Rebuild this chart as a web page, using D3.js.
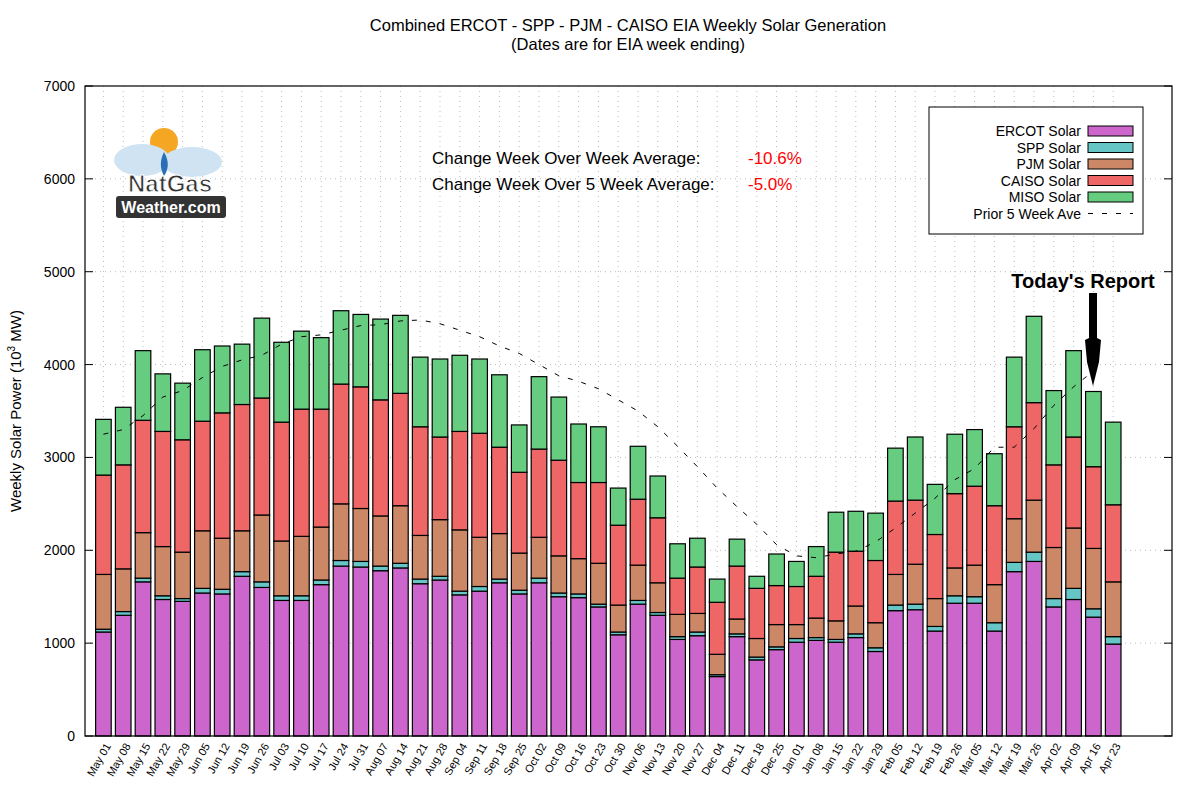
<!DOCTYPE html>
<html>
<head>
<meta charset="utf-8">
<script src="https://cdn.jsdelivr.net/npm/d3@7"></script>
<style>
  body { margin: 0; background: #fff; }
  text { font-family: "Liberation Sans", Arial, sans-serif; }
</style>
</head>
<body>
<svg id="chart" width="1200" height="800"></svg>
<script>
const weeks = ["May 01","May 08","May 15","May 22","May 29","Jun 05","Jun 12","Jun 19","Jun 26","Jul 03","Jul 10","Jul 17","Jul 24","Jul 31","Aug 07","Aug 14","Aug 21","Aug 28","Sep 04","Sep 11","Sep 18","Sep 25","Oct 02","Oct 09","Oct 16","Oct 23","Oct 30","Nov 06","Nov 13","Nov 20","Nov 27","Dec 04","Dec 11","Dec 18","Dec 25","Jan 01","Jan 08","Jan 15","Jan 22","Jan 29","Feb 05","Feb 12","Feb 19","Feb 26","Mar 05","Mar 12","Mar 19","Mar 26","Apr 02","Apr 09","Apr 16","Apr 23"]

// values in 10^3 MW, per region (not cumulative)
const ercot = [1120,1300,1660,1470,1450,1540,1530,1720,1600,1460,1460,1630,1830,1820,1780,1810,1640,1680,1520,1560,1650,1530,1650,1500,1490,1390,1090,1420,1300,1040,1080,640,1070,820,930,1010,1030,1010,1060,910,1350,1360,1130,1430,1430,1130,1770,1880,1390,1470,1280,990]
const spp = [30,40,40,40,30,50,50,50,60,50,50,50,60,60,50,50,50,40,40,50,40,40,50,40,40,30,30,40,30,30,40,20,30,30,30,40,30,30,40,40,60,60,50,80,70,90,100,100,90,120,90,80]
const pjm = [590,460,490,530,500,620,550,440,720,590,640,570,610,570,540,620,470,610,660,530,490,400,440,400,380,440,290,380,320,240,200,220,160,200,240,150,210,200,300,270,330,430,300,300,340,410,470,560,550,650,650,590]
const caiso = [1070,1120,1210,1240,1210,1180,1350,1360,1260,1280,1370,1270,1290,1310,1250,1210,1170,890,1060,1120,930,870,950,1030,820,870,860,710,700,390,500,560,570,540,420,410,450,740,590,670,790,690,690,800,850,850,990,1050,890,980,880,830]
const miso = [600,620,750,620,610,770,720,650,860,860,840,770,790,780,870,840,750,840,820,800,780,510,780,680,630,600,400,570,450,370,310,250,290,130,340,270,320,430,430,510,570,680,540,640,610,560,750,930,800,930,810,890]
const prior5 = [3250,3300,3450,3650,3720,3860,3980,4050,4100,4220,4300,4320,4370,4420,4430,4470,4480,4440,4370,4300,4200,4120,4000,3880,3820,3740,3620,3500,3330,3120,2900,2670,2470,2280,2060,1940,1920,1960,1990,2090,2240,2400,2560,2760,2880,3110,3110,3310,3560,3760,3930]
const seriesNames = ["ERCOT Solar","SPP Solar","PJM Solar","CAISO Solar","MISO Solar"]
const seriesColors = ["#cc66cc","#66c6c6","#cc8866","#ef6666","#66cc80"]
const yTicks = [0,1000,2000,3000,4000,5000,6000,7000]

const svg = d3.select("#chart")
const pLeft = 85, pRight = 1172, pTop = 86, pBottom = 736

const x = d3.scaleLinear().domain([-0.93, 53.97]).range([pLeft, pRight])
const y = d3.scaleLinear().domain([0, 7000]).range([pBottom, pTop])
const bw = 15.6

// grid
svg.append("g").selectAll("line").data(yTicks.slice(1, -1)).enter().append("line")
  .attr("x1", pLeft).attr("x2", pRight).attr("y1", d => y(d)).attr("y2", d => y(d))
  .attr("stroke", "#bbb").attr("stroke-dasharray", "1,4")
svg.append("g").selectAll("line").data(weeks).enter().append("line")
  .attr("x1", (d, i) => x(i)).attr("x2", (d, i) => x(i)).attr("y1", pTop).attr("y2", pBottom)
  .attr("stroke", "#bbb").attr("stroke-dasharray", "1,4")

// stack
const rows = weeks.map((w, i) => ({ i: i, v: [ercot[i], spp[i], pjm[i], caiso[i], miso[i]] }))
const stack = d3.stack().keys([0,1,2,3,4]).value((d, k) => d.v[k])(rows)
stack.forEach((layer, k) => {
  svg.append("g").selectAll("rect").data(layer).enter().append("rect")
    .attr("x", d => x(d.data.i) - bw / 2)
    .attr("width", bw)
    .attr("y", d => y(d[1]))
    .attr("height", d => y(d[0]) - y(d[1]))
    .attr("fill", seriesColors[k])
    .attr("stroke", "#000").attr("stroke-width", 1.2)
})

// prior 5 week average
svg.append("path").datum(prior5)
  .attr("d", d3.line().x((d, i) => x(i)).y(d => y(d)))
  .attr("fill", "none").attr("stroke", "#000").attr("stroke-width", 1)
  .attr("stroke-dasharray", "5,9")

// frame & axes
svg.append("rect").attr("x", pLeft).attr("y", pTop).attr("width", pRight - pLeft).attr("height", pBottom - pTop)
  .attr("fill", "none").attr("stroke", "#000").attr("stroke-width", 1.2)

const yAxis = svg.append("g").attr("transform", `translate(${pLeft},0)`)
  .call(d3.axisLeft(y).tickValues(yTicks).tickSize(0).tickPadding(10).tickFormat(d3.format("d")))
yAxis.select(".domain").remove()
yAxis.selectAll("text").attr("font-size", 14).attr("fill", "#000")
svg.append("g").selectAll("line").data(yTicks).enter().append("line")
  .attr("x1", pRight - 8).attr("x2", pRight).attr("y1", d => y(d)).attr("y2", d => y(d)).attr("stroke", "#000")
svg.append("g").selectAll("line").data(yTicks).enter().append("line")
  .attr("x1", pLeft).attr("x2", pLeft + 8).attr("y1", d => y(d)).attr("y2", d => y(d)).attr("stroke", "#000")

const xAxis = svg.append("g").attr("transform", `translate(0,${pBottom})`)
  .call(d3.axisBottom(x).tickValues(d3.range(weeks.length)).tickSize(0).tickFormat(i => weeks[i]))
xAxis.select(".domain").remove()
xAxis.selectAll("text")
  .attr("font-size", 11).attr("fill", "#000")
  .attr("text-anchor", "end")
  .attr("transform", "translate(4,8) rotate(-60)")
  .attr("dy", "0.35em").attr("y", 0)

svg.append("text").attr("transform", `translate(21,${(pTop + pBottom) / 2}) rotate(-90)`)
  .attr("text-anchor", "middle").attr("font-size", 15)
  .html('Weekly Solar Power (10<tspan dy="-6" font-size="10">3</tspan><tspan dy="6"> MW)</tspan>')

// title
svg.append("text").attr("x", 628).attr("y", 31).attr("text-anchor", "middle").attr("font-size", 16.5)
  .text("Combined ERCOT - SPP - PJM - CAISO EIA Weekly Solar Generation")
svg.append("text").attr("x", 628).attr("y", 50).attr("text-anchor", "middle").attr("font-size", 16.5)
  .text("(Dates are for EIA week ending)")

// change labels
svg.append("text").attr("x", 432).attr("y", 164).attr("font-size", 17).text("Change Week Over Week Average:")
svg.append("text").attr("x", 748).attr("y", 164).attr("font-size", 17).attr("fill", "#f00").text("-10.6%")
svg.append("text").attr("x", 432).attr("y", 190).attr("font-size", 17).text("Change Week Over 5 Week Average:")
svg.append("text").attr("x", 748).attr("y", 190).attr("font-size", 17).attr("fill", "#f00").text("-5.0%")

// legend
svg.append("rect").attr("x", 929).attr("y", 107).attr("width", 214).attr("height", 127)
  .attr("fill", "#fff").attr("stroke", "#000")
seriesNames.forEach((n, k) => {
  const ly = 131 + k * 16.5
  svg.append("text").attr("x", 1081).attr("y", ly + 5).attr("text-anchor", "end").attr("font-size", 14).text(n)
  svg.append("rect").attr("x", 1088).attr("y", ly - 5).attr("width", 45).attr("height", 10)
    .attr("fill", seriesColors[k]).attr("stroke", "#000")
})
svg.append("text").attr("x", 1081).attr("y", 131 + 5 * 16.5 + 5).attr("text-anchor", "end").attr("font-size", 14).text("Prior 5 Week Ave")
svg.append("line").attr("x1", 1088).attr("x2", 1133).attr("y1", 131 + 5 * 16.5).attr("y2", 131 + 5 * 16.5)
  .attr("stroke", "#000").attr("stroke-dasharray", "5,9")

// Today's report annotation
svg.append("text").attr("x", 1083).attr("y", 288).attr("text-anchor", "middle")
  .attr("font-size", 20).attr("font-weight", "bold").attr("font-family", "Open Sans").text("Today's Report")
svg.append("path")
  .attr("d", "M1089,293 L1097,293 L1097,338 L1101,340 L1099,362 L1093,386 L1087,362 L1085,340 L1089,338 Z")
  .attr("fill", "#000")

// logo
const logo = svg.append("g").attr("transform", "translate(112,120)")
logo.append("circle").attr("cx", 52).attr("cy", 22).attr("r", 14).attr("fill", "#f5a623")
logo.append("ellipse").attr("cx", 30).attr("cy", 40).attr("rx", 28).attr("ry", 16).attr("fill", "#cfe3f2")
logo.append("ellipse").attr("cx", 80).attr("cy", 42).attr("rx", 30).attr("ry", 15).attr("fill", "#cfe3f2")
logo.append("path").attr("d", "M52,32 C46,44 50,52 52,56 C56,50 58,42 52,32 Z").attr("fill", "#2a6fb5")
logo.append("text").attr("x", 58).attr("y", 72).attr("text-anchor", "middle").attr("font-size", 24)
  .attr("font-weight", "bold").attr("fill", "#333").attr("stroke", "#fff").attr("stroke-width", 1).text("NatGas")
logo.append("rect").attr("x", 4).attr("y", 76).attr("width", 110).attr("height", 22).attr("rx", 3).attr("fill", "#333")
logo.append("text").attr("x", 59).attr("y", 93).attr("text-anchor", "middle").attr("font-size", 16)
  .attr("font-weight", "bold").attr("fill", "#fff").text("Weather.com")
</script>
</body>
</html>
